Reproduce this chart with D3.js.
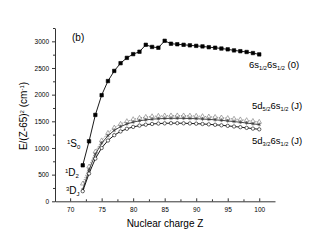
<!DOCTYPE html>
<meta charset="utf-8">
<html>
<body style="margin:0;background:#fff">
<div id="chart"></div>
<script src="https://d3js.org/d3.v7.min.js"></script>
<script>
// nuclear charge Z
var zValues = d3.range(72, 101);
// 6s1/2 6s1/2 (0) - filled squares
var s6s6 = [675, 1125, 1620, 1990, 2255, 2445, 2590, 2690, 2760, 2805, 2935, 2895, 2880, 3010,
  2955, 2945, 2935, 2925, 2915, 2905, 2890, 2880, 2865, 2850, 2830, 2815, 2800, 2780, 2755];
// 5d5/2 6s1/2 (J) - open triangles
var d52a = [330, 650, 930, 1140, 1280, 1380, 1450, 1500, 1537, 1562, 1580, 1592, 1600, 1605,
  1607, 1608, 1607, 1604, 1600, 1594, 1587, 1579, 1569, 1558, 1546, 1533, 1519, 1504, 1488];
// 5d5/2 6s1/2 (J) - stars
var d52b = [220, 590, 880, 1090, 1230, 1330, 1400, 1450, 1485, 1510, 1527, 1540, 1548, 1553,
  1556, 1557, 1556, 1553, 1549, 1543, 1536, 1528, 1518, 1507, 1495, 1482, 1468, 1453, 1438];
// 5d3/2 6s1/2 (J) - open circles
var d32 = [190, 520, 800, 1000, 1140, 1240, 1310, 1360, 1395, 1420, 1437, 1450, 1458, 1462,
  1465, 1465, 1463, 1460, 1456, 1450, 1443, 1435, 1425, 1415, 1403, 1390, 1377, 1363, 1350];
var xTicks = [70, 75, 80, 85, 90, 95, 100];
var yTicks = [0, 500, 1000, 1500, 2000, 2500, 3000];

var width = 320, height = 245;
var svg = d3.select("#chart").append("svg")
  .attr("width", width).attr("height", height)
  .style("font-family", "Liberation Sans, Arial, sans-serif");

var x = d3.scaleLinear().domain([67.6, 102.5]).range([55, 275]);
var y = d3.scaleLinear().domain([0, 3250]).range([201.3, 28]);

// axes
svg.append("g").attr("transform", "translate(0," + y(0) + ")")
  .call(d3.axisBottom(x).tickValues(xTicks).tickSizeInner(-3).tickSizeOuter(0).tickPadding(6));
svg.append("g").attr("transform", "translate(0," + y(0) + ")")
  .call(d3.axisBottom(x).tickValues(d3.range(72.5, 101, 5)).tickSize(-2).tickFormat(""))
  .select(".domain").remove();
svg.append("g").attr("transform", "translate(" + x.range()[0] + ",0)")
  .call(d3.axisLeft(y).tickValues(yTicks).tickFormat(d3.format("d"))
    .tickSizeInner(3).tickSizeOuter(0).tickPadding(3));
svg.append("g").attr("transform", "translate(" + x.range()[0] + ",0)")
  .call(d3.axisLeft(y).tickValues(d3.range(250, 3300, 500)).tickSize(2).tickFormat(""))
  .select(".domain").remove();
svg.selectAll(".tick text").style("font-size", "6.5px").attr("fill", "#000");
svg.selectAll(".domain, .tick line").attr("stroke", "#000").attr("stroke-width", 0.8);

var line = d3.line().x(function (d, i) { return x(zValues[i]); }).y(function (d) { return y(d); });

function drawSeries(vals, shape, fill, color, dash) {
  svg.append("path").datum(vals).attr("d", line)
    .attr("fill", "none").attr("stroke", color).attr("stroke-width", 0.9)
    .attr("stroke-dasharray", dash || null);
  svg.append("g").selectAll("path").data(vals).enter().append("path")
    .attr("transform", function (d, i) { return "translate(" + x(zValues[i]) + "," + y(d) + ")"; })
    .attr("d", d3.symbol().type(shape).size(shape === d3.symbolSquare ? 12 : 9))
    .attr("fill", fill).attr("stroke", color).attr("stroke-width", 0.6);
}
drawSeries(d52a, d3.symbolTriangle, "#fff", "#777", "1,1");
drawSeries(d52b, d3.symbolAsterisk, "none", "#333");
drawSeries(d32, d3.symbolCircle, "#fff", "#000");
drawSeries(s6s6, d3.symbolSquare, "#000", "#000");

// labels with sub/superscripts
function label(xp, yp, parts, size) {
  var t = svg.append("text").attr("x", xp).attr("y", yp).style("font-size", size + "px");
  parts.forEach(function (p) {
    var ts = t.append("tspan").text(p[0]);
    if (p[1] === "sub") ts.attr("baseline-shift", "-35%").style("font-size", (size * 0.6) + "px");
    if (p[1] === "sup") ts.attr("baseline-shift", "45%").style("font-size", (size * 0.6) + "px");
  });
  return t;
}
label(72, 41, [["(b)"]], 10);
label(249, 68, [["6s"], ["1/2", "sub"], ["6s"], ["1/2", "sub"], [" (0)"]], 9.5);
label(252, 109, [["5d"], ["5/2", "sub"], ["6s"], ["1/2", "sub"], [" (J)"]], 9.5);
label(252, 144, [["5d"], ["3/2", "sub"], ["6s"], ["1/2", "sub"], [" (J)"]], 9.5);
label(67, 147, [["1", "sup"], ["S"], ["0", "sub"]], 10);
label(65, 176, [["1", "sup"], ["D"], ["2", "sub"]], 10);
label(66, 194, [["3", "sup"], ["D"], ["J", "sub"]], 10);

// axis titles
svg.append("text").attr("x", 165).attr("y", 227).attr("text-anchor", "middle")
  .style("font-size", "10px").text("Nuclear charge Z");
label(0, 0, [["E/(Z-65)"], ["2", "sup"], [" (cm"], ["-1", "sup"], [")"]], 10)
  .attr("text-anchor", "middle")
  .attr("transform", "translate(27,116) rotate(-90)");
</script>
</body>
</html>
